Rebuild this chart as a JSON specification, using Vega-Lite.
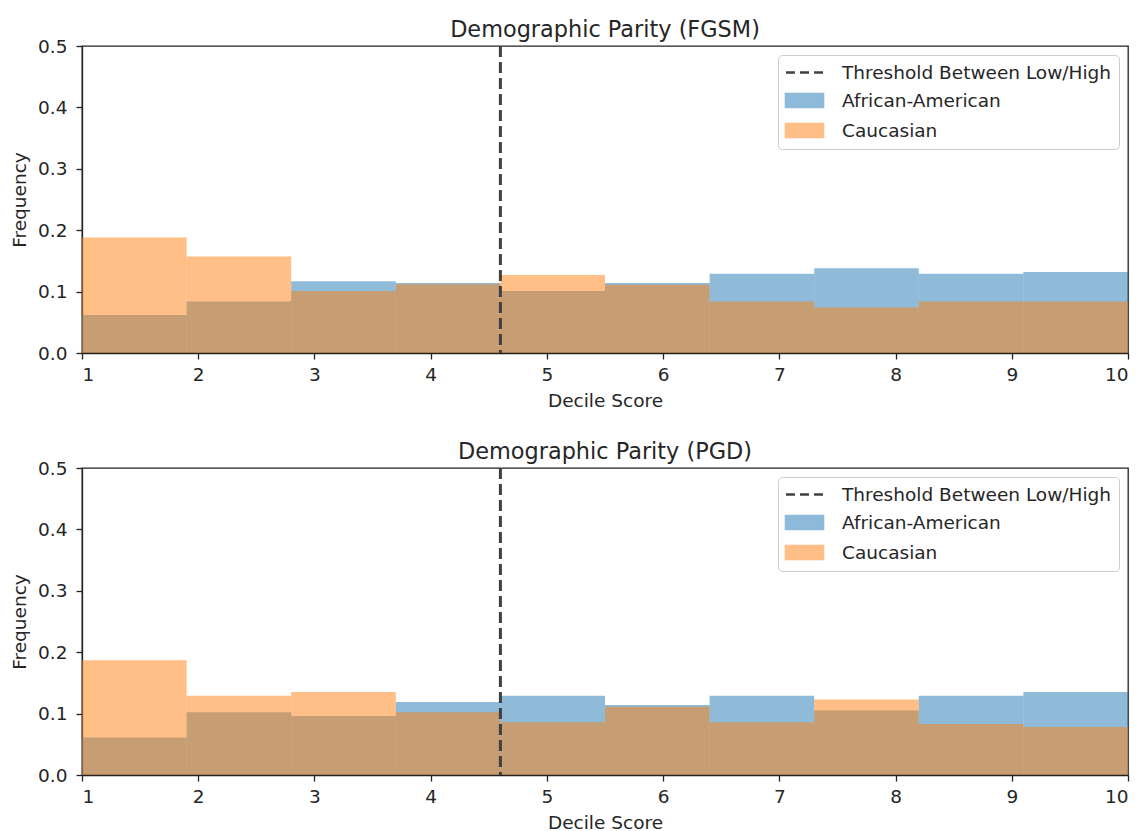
{
  "$schema": "https://vega.github.io/schema/vega-lite/v6.json",
  "background": "white",
  "padding": {"left": 9, "top": 17, "right": 6, "bottom": 0},
  "config": {
    "font": "DejaVu Sans",
    "view": {"stroke": "#222", "strokeWidth": 1.3},
    "axis": {
      "grid": false,
      "domainColor": "#222",
      "domainWidth": 1.3,
      "tickColor": "#222",
      "tickWidth": 1.3,
      "tickSize": 6,
      "labelFont": "DejaVu Sans",
      "labelFontSize": 18.5,
      "labelColor": "#262626",
      "titleFont": "DejaVu Sans",
      "titleFontSize": 18.5,
      "titleFontWeight": "normal",
      "titleColor": "#262626"
    },
    "axisX": {"labelPadding": 6, "titlePadding": 7.5},
    "axisY": {"labelPadding": 9, "titlePadding": 8.5},
    "title": {"font": "DejaVu Sans", "fontSize": 22.4, "fontWeight": "normal", "color": "#262626", "offset": -4},
    "legend": {
      "orient": "top-right",
      "offset": 9,
      "title": null,
      "labelFont": "DejaVu Sans",
      "labelFontSize": 18.5,
      "labelColor": "#262626",
      "labelLimit": 0,
      "strokeColor": "#cccccc",
      "fillColor": "white",
      "padding": 7,
      "cornerRadius": 4,
      "symbolSize": 324,
      "symbolOpacity": 1,
      "symbolOffset": 9,
      "rowPadding": 7,
      "labelOffset": 27
    }
  },
  "datasets": {
    "hist": [
      {"panel": "FGSM", "group": "African-American", "lo": 1.0, "hi": 1.9, "freq": 0.062},
      {"panel": "FGSM", "group": "African-American", "lo": 1.9, "hi": 2.8, "freq": 0.084},
      {"panel": "FGSM", "group": "African-American", "lo": 2.8, "hi": 3.7, "freq": 0.117},
      {"panel": "FGSM", "group": "African-American", "lo": 3.7, "hi": 4.6, "freq": 0.114},
      {"panel": "FGSM", "group": "African-American", "lo": 4.6, "hi": 5.5, "freq": 0.101},
      {"panel": "FGSM", "group": "African-American", "lo": 5.5, "hi": 6.4, "freq": 0.114},
      {"panel": "FGSM", "group": "African-American", "lo": 6.4, "hi": 7.3, "freq": 0.129},
      {"panel": "FGSM", "group": "African-American", "lo": 7.3, "hi": 8.2, "freq": 0.138},
      {"panel": "FGSM", "group": "African-American", "lo": 8.2, "hi": 9.1, "freq": 0.129},
      {"panel": "FGSM", "group": "African-American", "lo": 9.1, "hi": 10.0, "freq": 0.132},
      {"panel": "FGSM", "group": "Caucasian", "lo": 1.0, "hi": 1.9, "freq": 0.188},
      {"panel": "FGSM", "group": "Caucasian", "lo": 1.9, "hi": 2.8, "freq": 0.157},
      {"panel": "FGSM", "group": "Caucasian", "lo": 2.8, "hi": 3.7, "freq": 0.101},
      {"panel": "FGSM", "group": "Caucasian", "lo": 3.7, "hi": 4.6, "freq": 0.112},
      {"panel": "FGSM", "group": "Caucasian", "lo": 4.6, "hi": 5.5, "freq": 0.127},
      {"panel": "FGSM", "group": "Caucasian", "lo": 5.5, "hi": 6.4, "freq": 0.111},
      {"panel": "FGSM", "group": "Caucasian", "lo": 6.4, "hi": 7.3, "freq": 0.084},
      {"panel": "FGSM", "group": "Caucasian", "lo": 7.3, "hi": 8.2, "freq": 0.074},
      {"panel": "FGSM", "group": "Caucasian", "lo": 8.2, "hi": 9.1, "freq": 0.084},
      {"panel": "FGSM", "group": "Caucasian", "lo": 9.1, "hi": 10.0, "freq": 0.084},
      {"panel": "PGD", "group": "African-American", "lo": 1.0, "hi": 1.9, "freq": 0.061},
      {"panel": "PGD", "group": "African-American", "lo": 1.9, "hi": 2.8, "freq": 0.102},
      {"panel": "PGD", "group": "African-American", "lo": 2.8, "hi": 3.7, "freq": 0.096},
      {"panel": "PGD", "group": "African-American", "lo": 3.7, "hi": 4.6, "freq": 0.119},
      {"panel": "PGD", "group": "African-American", "lo": 4.6, "hi": 5.5, "freq": 0.129},
      {"panel": "PGD", "group": "African-American", "lo": 5.5, "hi": 6.4, "freq": 0.114},
      {"panel": "PGD", "group": "African-American", "lo": 6.4, "hi": 7.3, "freq": 0.129},
      {"panel": "PGD", "group": "African-American", "lo": 7.3, "hi": 8.2, "freq": 0.105},
      {"panel": "PGD", "group": "African-American", "lo": 8.2, "hi": 9.1, "freq": 0.129},
      {"panel": "PGD", "group": "African-American", "lo": 9.1, "hi": 10.0, "freq": 0.135},
      {"panel": "PGD", "group": "Caucasian", "lo": 1.0, "hi": 1.9, "freq": 0.187},
      {"panel": "PGD", "group": "Caucasian", "lo": 1.9, "hi": 2.8, "freq": 0.129},
      {"panel": "PGD", "group": "Caucasian", "lo": 2.8, "hi": 3.7, "freq": 0.135},
      {"panel": "PGD", "group": "Caucasian", "lo": 3.7, "hi": 4.6, "freq": 0.102},
      {"panel": "PGD", "group": "Caucasian", "lo": 4.6, "hi": 5.5, "freq": 0.086},
      {"panel": "PGD", "group": "Caucasian", "lo": 5.5, "hi": 6.4, "freq": 0.111},
      {"panel": "PGD", "group": "Caucasian", "lo": 6.4, "hi": 7.3, "freq": 0.086},
      {"panel": "PGD", "group": "Caucasian", "lo": 7.3, "hi": 8.2, "freq": 0.123},
      {"panel": "PGD", "group": "Caucasian", "lo": 8.2, "hi": 9.1, "freq": 0.083},
      {"panel": "PGD", "group": "Caucasian", "lo": 9.1, "hi": 10.0, "freq": 0.078}
    ],
    "thr": [{"x": 4.6, "label": "Threshold Between Low/High"}]
  },
  "resolve": {"legend": {"color": "independent"}},
  "spacing": 28,
  "vconcat": [
    {
      "title": "Demographic Parity (FGSM)",
      "width": 1046,
      "height": 307,
      "layer": [
        {
          "data": {"name": "hist"},
          "transform": [{"filter": "datum.panel === 'FGSM'"}],
          "mark": {"type": "bar", "opacity": 0.5, "clip": true},
          "encoding": {
            "x": {"field": "lo", "type": "quantitative", "scale": {"domain": [1, 10], "nice": false, "zero": false}, "axis": {"title": "Decile Score", "values": [1,2,3,4,5,6,7,8,9,10], "format": "d"}},
            "x2": {"field": "hi"},
            "y": {"field": "freq", "type": "quantitative", "stack": null, "scale": {"domain": [0, 0.5], "nice": false}, "axis": {"title": "Frequency", "values": [0,0.1,0.2,0.3,0.4,0.5], "format": ".1f"}},
            "y2": {"datum": 0},
            "color": {"field": "group", "type": "nominal",
              "scale": {"domain": ["Threshold Between Low/High", "African-American", "Caucasian"], "range": ["#404040", "#1f77b4", "#ff7f0e"]},
              "legend": {
                "symbolOpacity": 1,
                "encode": {"symbols": {"update": {
                  "shape": {"signal": "datum.value === 'Threshold Between Low/High' ? 'M-2.06,0H-1.06M-0.5,0H0.5M1.06,0H2.06' : 'M-2.06,-0.72H2.06V0.72H-2.06Z'"},
                  "fill": {"signal": "datum.value === 'Threshold Between Low/High' ? 'transparent' : (datum.value === 'African-American' ? '#1f77b4' : '#ff7f0e')"},
                  "stroke": {"signal": "datum.value === 'Threshold Between Low/High' ? '#404040' : 'transparent'"},
                  "strokeWidth": {"value": 2.5},
                  "opacity": {"signal": "datum.value === 'Threshold Between Low/High' ? 1 : 0.5"}
                }}}
              }}
          }
        },
        {
          "data": {"name": "thr"},
          "mark": {"type": "rule", "strokeDash": [11, 5], "strokeWidth": 3},
          "encoding": {
            "x": {"field": "x", "type": "quantitative"},
            "color": {"field": "label", "type": "nominal",
              "legend": {
                "symbolOpacity": 1,
                "encode": {"symbols": {"update": {
                  "shape": {"signal": "datum.value === 'Threshold Between Low/High' ? 'M-2.06,0H-1.06M-0.5,0H0.5M1.06,0H2.06' : 'M-2.06,-0.72H2.06V0.72H-2.06Z'"},
                  "fill": {"signal": "datum.value === 'Threshold Between Low/High' ? 'transparent' : (datum.value === 'African-American' ? '#1f77b4' : '#ff7f0e')"},
                  "stroke": {"signal": "datum.value === 'Threshold Between Low/High' ? '#404040' : 'transparent'"},
                  "strokeWidth": {"value": 2.5},
                  "opacity": {"signal": "datum.value === 'Threshold Between Low/High' ? 1 : 0.5"}
                }}}
              }}
          }
        }
      ]
    },
    {
      "title": "Demographic Parity (PGD)",
      "width": 1046,
      "height": 307,
      "layer": [
        {
          "data": {"name": "hist"},
          "transform": [{"filter": "datum.panel === 'PGD'"}],
          "mark": {"type": "bar", "opacity": 0.5, "clip": true},
          "encoding": {
            "x": {"field": "lo", "type": "quantitative", "scale": {"domain": [1, 10], "nice": false, "zero": false}, "axis": {"title": "Decile Score", "values": [1,2,3,4,5,6,7,8,9,10], "format": "d"}},
            "x2": {"field": "hi"},
            "y": {"field": "freq", "type": "quantitative", "stack": null, "scale": {"domain": [0, 0.5], "nice": false}, "axis": {"title": "Frequency", "values": [0,0.1,0.2,0.3,0.4,0.5], "format": ".1f"}},
            "y2": {"datum": 0},
            "color": {"field": "group", "type": "nominal",
              "scale": {"domain": ["Threshold Between Low/High", "African-American", "Caucasian"], "range": ["#404040", "#1f77b4", "#ff7f0e"]},
              "legend": {
                "symbolOpacity": 1,
                "encode": {"symbols": {"update": {
                  "shape": {"signal": "datum.value === 'Threshold Between Low/High' ? 'M-2.06,0H-1.06M-0.5,0H0.5M1.06,0H2.06' : 'M-2.06,-0.72H2.06V0.72H-2.06Z'"},
                  "fill": {"signal": "datum.value === 'Threshold Between Low/High' ? 'transparent' : (datum.value === 'African-American' ? '#1f77b4' : '#ff7f0e')"},
                  "stroke": {"signal": "datum.value === 'Threshold Between Low/High' ? '#404040' : 'transparent'"},
                  "strokeWidth": {"value": 2.5},
                  "opacity": {"signal": "datum.value === 'Threshold Between Low/High' ? 1 : 0.5"}
                }}}
              }}
          }
        },
        {
          "data": {"name": "thr"},
          "mark": {"type": "rule", "strokeDash": [11, 5], "strokeWidth": 3},
          "encoding": {
            "x": {"field": "x", "type": "quantitative"},
            "color": {"field": "label", "type": "nominal",
              "legend": {
                "symbolOpacity": 1,
                "encode": {"symbols": {"update": {
                  "shape": {"signal": "datum.value === 'Threshold Between Low/High' ? 'M-2.06,0H-1.06M-0.5,0H0.5M1.06,0H2.06' : 'M-2.06,-0.72H2.06V0.72H-2.06Z'"},
                  "fill": {"signal": "datum.value === 'Threshold Between Low/High' ? 'transparent' : (datum.value === 'African-American' ? '#1f77b4' : '#ff7f0e')"},
                  "stroke": {"signal": "datum.value === 'Threshold Between Low/High' ? '#404040' : 'transparent'"},
                  "strokeWidth": {"value": 2.5},
                  "opacity": {"signal": "datum.value === 'Threshold Between Low/High' ? 1 : 0.5"}
                }}}
              }}
          }
        }
      ]
    }
  ]
}
